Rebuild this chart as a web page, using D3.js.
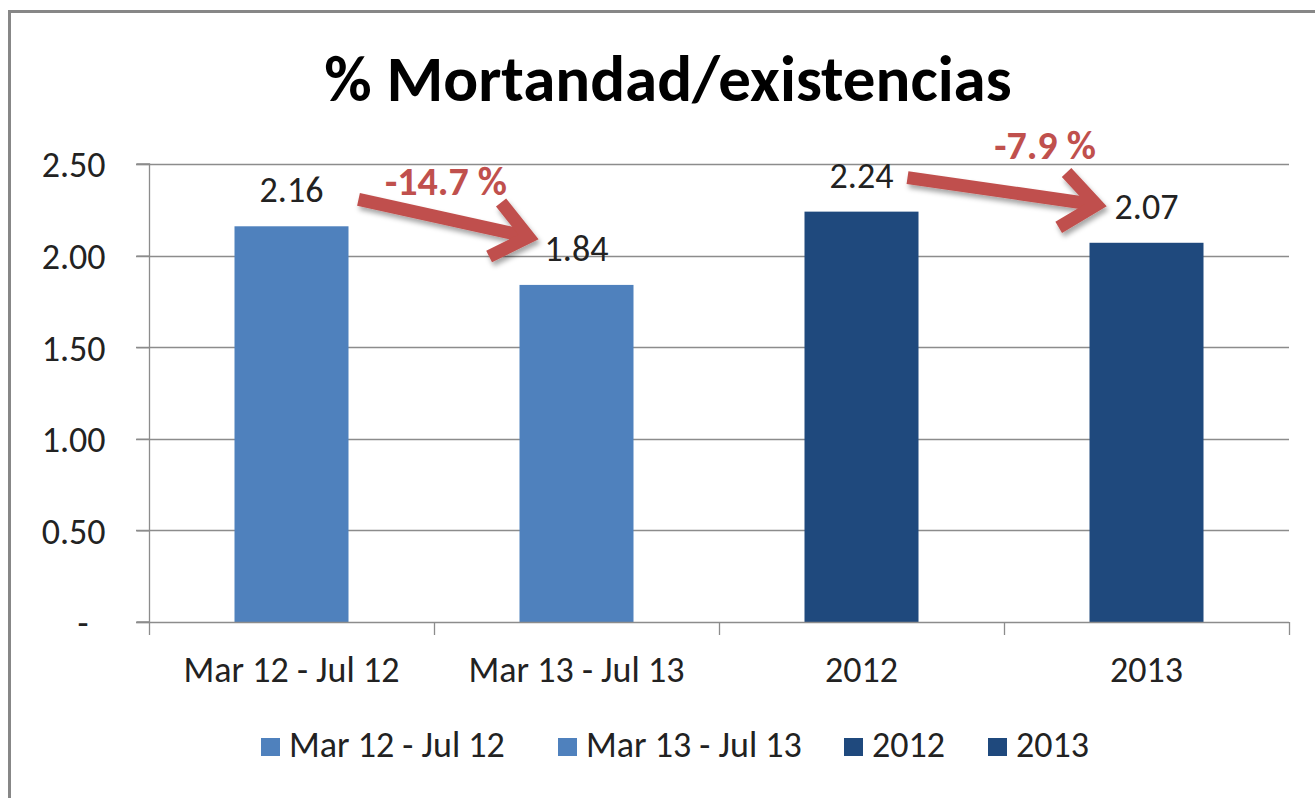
<!DOCTYPE html>
<html><head><meta charset="utf-8">
<script src="https://cdnjs.cloudflare.com/ajax/libs/d3/7.8.5/d3.min.js"></script>
<style>
html,body{margin:0;padding:0;background:#fff;}
svg{display:block;}
text{font-family:Carlito, Lato, "Open Sans", sans-serif;}
</style></head>
<body>
<script>
const categories = ["Mar 12 - Jul 12", "Mar 13 - Jul 13", "2012", "2013"];
const values = [2.16, 1.84, 2.24, 2.07];
const barColors = ["#4F81BD", "#4F81BD", "#1F497D", "#1F497D"];
const yTicks = [0, 0.5, 1.0, 1.5, 2.0, 2.5];
const changes = [
  {from: 0, to: 1, label: "-14.7 %"},
  {from: 2, to: 3, label: "-7.9 %"}
];
const title = "% Mortandad/existencias";

const W = 1315, H = 798;
const FS = 36;
const svg = d3.select("body").append("svg").attr("width", W).attr("height", H);

const defs = svg.append("defs");
const f = defs.append("filter").attr("id","shadow").attr("x","-20%").attr("y","-50%").attr("width","140%").attr("height","200%");
f.append("feDropShadow").attr("dx",2).attr("dy",4).attr("stdDeviation",2.5).attr("flood-color","#000").attr("flood-opacity",0.35);

// outer border
svg.append("rect").attr("x",9.5).attr("y",11.5).attr("width",W+20).attr("height",H+20)
  .attr("fill","none").attr("stroke","#878787").attr("stroke-width",3);

const x = d3.scaleBand().domain(categories).range([149, 1289]).paddingInner(0.6).paddingOuter(0.3);
const y = d3.scaleLinear().domain([0, 2.5]).range([622, 164]);

// title
svg.append("text").attr("x", 668).attr("y", 101).attr("text-anchor","middle")
  .attr("font-size", 65).attr("font-weight","bold").attr("fill","#000").text(title);

// gridlines
svg.append("g").selectAll("line").data(yTicks.filter(d=>d>0)).join("line")
  .attr("x1",136).attr("x2",1289).attr("y1",d=>Math.round(y(d))+0.5).attr("y2",d=>Math.round(y(d))+0.5)
  .attr("stroke","#8c8c8c").attr("stroke-width",1.3);

// y axis
const yAxis = d3.axisLeft(y).tickValues(yTicks).tickSize(13).tickPadding(31)
  .tickFormat(d => d === 0 ? "-" : d3.format(".2f")(d));
const gy = svg.append("g").attr("transform","translate(149.5,0)").call(yAxis);
gy.selectAll("path,line").attr("stroke","#8c8c8c").attr("stroke-width",1.3);
gy.select(".domain").attr("d", `M-13,${y(2.5)}H0V${y(0)}H-13`);
gy.selectAll("text").attr("font-size",FS).attr("fill","#222").attr("dy","0.36em")
  .attr("font-family","Carlito, Lato, 'Open Sans', sans-serif")
  .attr("dx", d => d === 0 ? -17 : 0);

// bars
svg.append("g").selectAll("rect").data(values).join("rect")
  .attr("x",(d,i)=>x(categories[i])).attr("width",x.bandwidth())
  .attr("y",d=>y(d)).attr("height",d=>y(0)-y(d))
  .attr("fill",(d,i)=>barColors[i]);

// x axis
const step = x.step();
const gx = svg.append("g");
gx.append("line").attr("x1",136).attr("x2",1289).attr("y1",y(0)+0.5).attr("y2",y(0)+0.5)
  .attr("stroke","#8c8c8c").attr("stroke-width",1.3);
const tickXs = categories.map((c,i)=> x.range()[0] + i*step).concat([x.range()[1]]);
gx.selectAll("line.t").data(tickXs).join("line").attr("class","t")
  .attr("x1",d=>Math.round(d)+0.5).attr("x2",d=>Math.round(d)+0.5).attr("y1",y(0)).attr("y2",y(0)+13)
  .attr("stroke","#8c8c8c").attr("stroke-width",1.3);
gx.selectAll("text").data(categories).join("text")
  .attr("x",d=>x(d)+x.bandwidth()/2).attr("y",682).attr("text-anchor","middle")
  .attr("font-size",FS).attr("fill","#222").text(d=>d);

// data labels
svg.append("g").selectAll("text").data(values).join("text")
  .attr("x",(d,i)=>x(categories[i])+x.bandwidth()/2).attr("y",d=>y(d)-24)
  .attr("text-anchor","middle").attr("font-size",FS).attr("fill","#222")
  .text(d=>d3.format(".2f")(d));

// arrows
const red = "#C0504D";
const arrowG = svg.append("g").attr("filter","url(#shadow)");
const arrowDefs = [
  {sx: 67, sy: -27, ex: -48, ey: -48, lx: 446, ly: 195},
  {sx: 46, sy: -34, ex: -50, ey: -38, lx: 1045, ly: 159}
];
changes.forEach((c, k) => {
  const a = arrowDefs[k];
  const cx0 = x(categories[c.from]) + x.bandwidth()/2, cx1 = x(categories[c.to]) + x.bandwidth()/2;
  const x0 = cx0 + a.sx, y0 = y(values[c.from]) + a.sy;
  const x1 = cx1 + a.ex, y1 = y(values[c.to]) + a.ey;
  const ang = Math.atan2(y1-y0, x1-x0);
  const hl = 44, ha = 0.68;
  const p1 = [x1 - hl*Math.cos(ang-ha), y1 - hl*Math.sin(ang-ha)];
  const p2 = [x1 - hl*Math.cos(ang+ha), y1 - hl*Math.sin(ang+ha)];
  arrowG.append("path")
    .attr("d", `M${x0},${y0}L${x1-4*Math.cos(ang)},${y1-4*Math.sin(ang)}`)
    .attr("stroke", red).attr("stroke-width", 13).attr("fill","none").attr("stroke-linecap","butt");
  arrowG.append("path")
    .attr("d", `M${p1[0]},${p1[1]}L${x1},${y1}L${p2[0]},${p2[1]}`)
    .attr("stroke", red).attr("stroke-width", 13).attr("fill","none").attr("stroke-linejoin","miter").attr("stroke-miterlimit",10);
  svg.append("text").attr("x", a.lx).attr("y", a.ly).attr("text-anchor","middle")
    .attr("font-size", 40).attr("font-weight","bold").attr("fill", red).text(c.label);
});

// legend
const legendX = [261, 558, 844, 988];
const lg = svg.append("g");
categories.forEach((c,i) => {
  lg.append("rect").attr("x", legendX[i]).attr("y", 738).attr("width", 19).attr("height", 18).attr("fill", barColors[i]);
  lg.append("text").attr("x", legendX[i] + 28).attr("y", 757).attr("font-size", FS).attr("fill","#222").text(c);
});
</script>
</body></html>
